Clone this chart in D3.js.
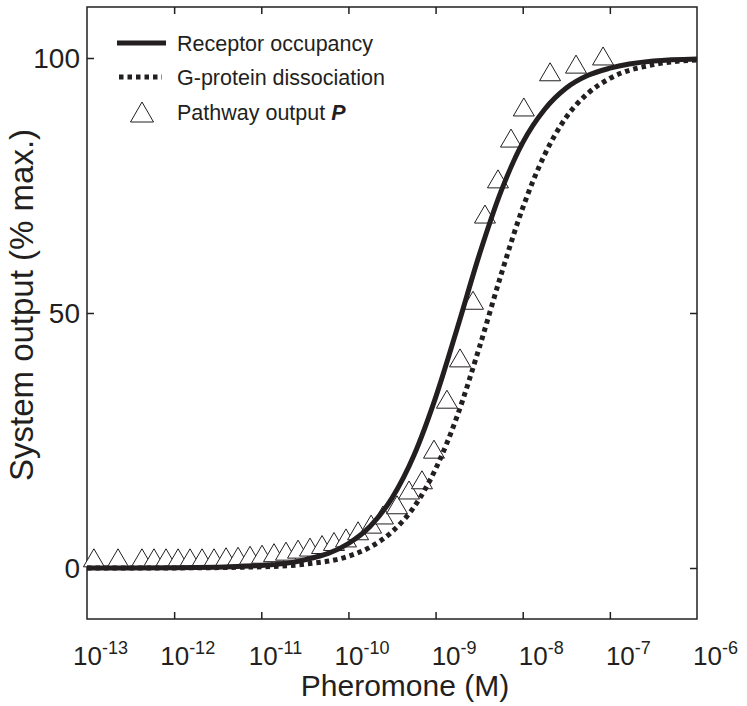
<!DOCTYPE html>
<html><head><meta charset="utf-8">
<script src="https://d3js.org/d3.v7.min.js"></script>
<style>
body{margin:0;background:#fff;}
svg text{font-family:"Liberation Sans",Arial,Helvetica,sans-serif;fill:#231f20;}
</style></head>
<body><svg id="c" width="747" height="706"></svg>
<script>
// ---- data ----
const curveConc = [1e-13,1e-12,1e-11,3.16e-11,1e-10,1.78e-10,3.16e-10,5.62e-10,1e-9,1.78e-9,3.16e-9,5.62e-9,1e-8,1.78e-8,3.16e-8,5.62e-8,1e-7,3.16e-7,1e-6];
const receptorOcc = [0.0,0.05,0.5,1.6,4.8,8.2,13.7,22.0,33.4,47.1,61.3,73.8,83.4,89.9,94.1,96.6,98.0,99.4,99.8];
const gProteinDiss = [0.0,0.02,0.24,0.75,2.3,4.1,7.1,11.9,19.4,29.9,43.1,57.4,70.6,81.0,88.4,93.1,96.0,98.7,99.6];
const pathwayConc = [1.2e-13,2.27e-13,4.27e-13,5.87e-13,8.07e-13,1.11e-12,1.52e-12,2.09e-12,2.87e-12,3.94e-12,5.41e-12,7.43e-12,1.02e-11,1.40e-11,1.92e-11,2.64e-11,3.62e-11,4.98e-11,6.83e-11,9.38e-11,1.29e-10,1.82e-10,2.49e-10,3.61e-10,4.96e-10,6.98e-10,9.59e-10,1.35e-9,1.91e-9,2.69e-9,3.69e-9,5.20e-9,7.34e-9,1.03e-8,2.06e-8,4.09e-8,8.36e-8];
const pathwayOut = [2.0,2.0,2.0,2.0,2.0,2.0,2.0,2.0,2.0,2.2,2.3,2.5,2.7,3.0,3.3,3.7,4.1,4.6,5.2,5.9,7.3,8.6,10.4,12.4,15.3,17.3,23.3,33.1,41.2,52.5,69.4,76.3,84.3,90.4,97.3,98.8,100.4];
const xTickExp = [-13,-12,-11,-10,-9,-8,-7,-6];
const yTicks = [0,50,100];
const legendLabels = ["Receptor occupancy","G-protein dissociation","Pathway output "];

// ---- layout ----
const L=87,R=697,T=7,B=619;
const x = d3.scaleLog().domain([1e-13,1e-6]).range([L,R]);
const y = d3.scaleLinear().domain([-10,110]).range([B,T]);
const ink="#231f20";
const svg=d3.select("#c");

// frame
svg.append("rect").attr("x",L).attr("y",T).attr("width",R-L).attr("height",B-T)
  .attr("fill","none").attr("stroke",ink).attr("stroke-width",1.5);

const innerDecades = xTickExp.slice(1,-1).map(e=>Math.pow(10,e));
const gxb=svg.append("g").attr("transform",`translate(0,${B})`).call(d3.axisBottom(x).tickValues(innerDecades).tickSize(-7).tickFormat(""));
const gxt=svg.append("g").attr("transform",`translate(0,${T})`).call(d3.axisTop(x).tickValues(innerDecades).tickSize(-7).tickFormat(""));
const gyl=svg.append("g").attr("transform",`translate(${L},0)`).call(d3.axisLeft(y).tickValues(yTicks).tickSize(-7).tickFormat(""));
const gyr=svg.append("g").attr("transform",`translate(${R},0)`).call(d3.axisRight(y).tickValues(yTicks).tickSize(-7).tickFormat(""));
[gxb,gxt,gyl,gyr].forEach(g=>{g.select(".domain").remove();g.selectAll("line").attr("stroke",ink).attr("stroke-width",1.5);});

// x tick labels
xTickExp.forEach(e=>{
  const t=svg.append("text").attr("x",x(Math.pow(10,e))+41).attr("y",665)
    .attr("text-anchor","end").style("font-size","26px");
  t.append("tspan").text("10");
  t.append("tspan").attr("dy",-11).style("font-size","18px").text(String(e));
});
// y tick labels
yTicks.forEach(v=>{
  svg.append("text").attr("x",L-7).attr("y",y(v)).attr("dy","0.36em")
    .attr("text-anchor","end").style("font-size","28px").text(v);
});
// axis titles
svg.append("text").attr("x",405).attr("y",696).attr("text-anchor","middle")
  .style("font-size","30px").text("Pheromone (M)");
svg.append("text").attr("transform",`translate(33,305) rotate(-90)`).attr("text-anchor","middle")
  .style("font-size","33px").text("System output (% max.)");

// triangles
const triW=21, triH=18;
const tri=(cx,cy,w,h)=>`M${cx},${cy-h/2}L${cx+w/2},${cy+h/2}L${cx-w/2},${cy+h/2}Z`;
const pts = pathwayConc.map((c,i)=>({c,v:pathwayOut[i]}));
svg.append("g").selectAll("path").data(pts).join("path")
  .attr("d",d=>tri(x(d.c),y(d.v),triW,triH))
  .attr("fill","#fff").attr("stroke",ink).attr("stroke-width",1);

// curves
const line=(arr)=>d3.line().x((d,i)=>x(curveConc[i])).y(d=>y(d)).curve(d3.curveMonotoneX)(arr);
svg.append("path").attr("d",line(gProteinDiss)).attr("fill","none").attr("stroke",ink)
  .attr("stroke-width",5).attr("stroke-dasharray","4.5,4");
svg.append("path").attr("d",line(receptorOcc)).attr("fill","none").attr("stroke",ink)
  .attr("stroke-width",5);

// legend
const lg=svg.append("g");
const rows=[43,77,112];
lg.append("line").attr("x1",117).attr("x2",166).attr("y1",rows[0]).attr("y2",rows[0]).attr("stroke",ink).attr("stroke-width",5);
lg.append("line").attr("x1",119).attr("x2",162).attr("y1",rows[1]).attr("y2",rows[1]).attr("stroke",ink).attr("stroke-width",5).attr("stroke-dasharray","4.5,4");
lg.append("path").attr("d",tri(142,rows[2],23,20)).attr("fill","#fff").attr("stroke",ink).attr("stroke-width",1);
legendLabels.forEach((s,i)=>{
  const t=lg.append("text").attr("x",177).attr("y",rows[i]).attr("dy","0.35em").style("font-size","21.5px").text(s);
  if(i===2) t.append("tspan").style("font-weight","bold").style("font-style","italic").text("P");
});
</script></body></html>
